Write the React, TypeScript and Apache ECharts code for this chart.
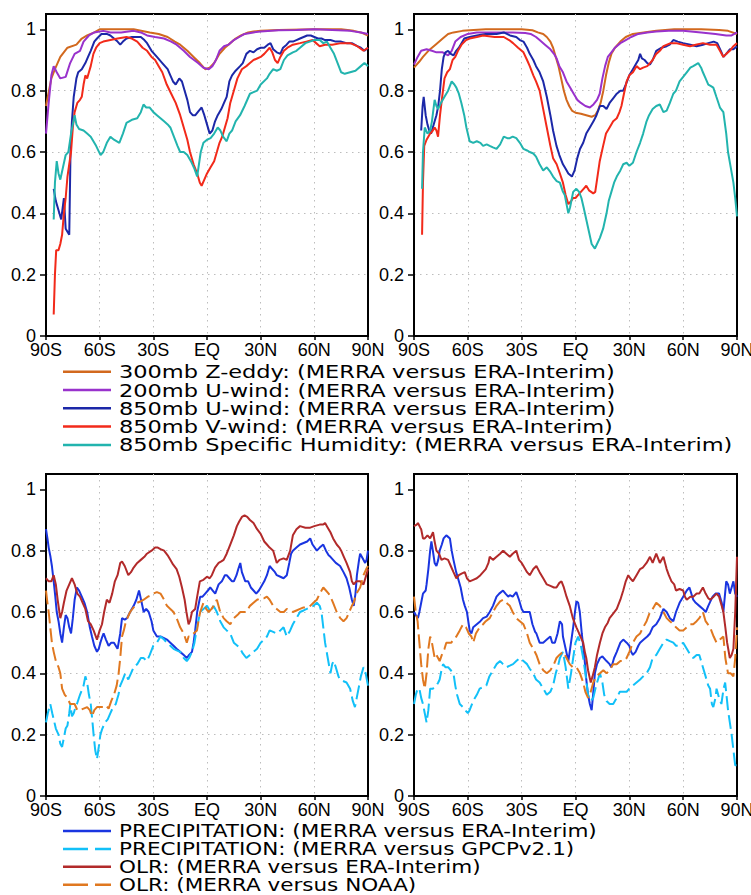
import { useRef, useEffect } from 'react';
import * as echarts from 'echarts';

// correlation vs latitude: [lat, r]
const zEddyA = [[-90,0.75],[-87,0.84],[-85,0.87],[-82,0.91],[-78,0.94],[-73,0.95],[-70,0.97],[-67,0.98],[-63,0.99],[-60,1.0],[-50,1.0],[-41,1.0],[-32,0.99],[-27,0.985],[-22,0.975],[-18,0.96],[-15,0.95],[-11,0.93],[-7.5,0.91],[-4,0.89],[-1,0.87],[1.5,0.875],[4,0.89],[7,0.92],[10,0.94],[13,0.955],[16,0.97],[19,0.98],[23,0.99],[26,0.993],[30,0.995],[40,0.998],[60,1.0],[75,1.0],[82,0.995],[86,0.99],[90,0.98]];
const uWind200A = [[-90,0.66],[-88.5,0.76],[-87,0.85],[-85.7,0.88],[-84,0.86],[-82,0.84],[-79,0.845],[-76.5,0.89],[-74,0.92],[-71,0.93],[-69,0.96],[-66,0.98],[-63,0.99],[-58,0.995],[-54,0.99],[-48,0.99],[-41,0.995],[-37,0.99],[-33.5,0.98],[-29,0.975],[-24,0.97],[-20,0.96],[-17,0.95],[-13,0.93],[-9.5,0.91],[-5,0.89],[-2,0.875],[1,0.87],[3,0.88],[5,0.9],[7,0.93],[9.5,0.945],[12,0.95],[15,0.965],[18,0.975],[21,0.985],[26,0.99],[30,0.993],[40,0.997],[50,0.998],[60,1.0],[70,0.998],[80,0.995],[86,0.99],[90,0.985]];
const uWind850A = [[-85.7,0.48],[-84.5,0.44],[-83,0.41],[-81.5,0.38],[-80,0.45],[-79,0.35],[-78,0.34],[-77,0.33],[-76.3,0.6],[-75.5,0.7],[-74.5,0.78],[-73,0.84],[-72,0.86],[-70,0.87],[-68,0.89],[-66.5,0.91],[-65,0.93],[-63,0.96],[-61.5,0.97],[-59,0.985],[-56,0.985],[-54,0.98],[-52,0.97],[-50,0.96],[-48.5,0.95],[-47,0.96],[-45,0.97],[-42,0.975],[-37,0.975],[-35,0.965],[-33.5,0.955],[-31,0.93],[-28,0.91],[-25,0.89],[-22,0.87],[-20.5,0.85],[-19,0.83],[-17.5,0.82],[-15.5,0.84],[-14,0.83],[-12.5,0.8],[-11,0.77],[-9.5,0.73],[-8,0.72],[-6.5,0.72],[-4.5,0.735],[-3,0.745],[-1.5,0.72],[0,0.69],[1.5,0.66],[3,0.67],[4.5,0.7],[6,0.72],[8,0.74],[9.5,0.76],[11,0.78],[12.5,0.83],[14,0.85],[16,0.865],[18.5,0.88],[20,0.89],[22,0.92],[24,0.93],[26,0.925],[28,0.935],[30,0.94],[32,0.94],[34,0.95],[35.5,0.955],[37,0.935],[39,0.925],[41,0.92],[42.5,0.94],[44.5,0.95],[46,0.96],[48,0.96],[50,0.965],[52,0.97],[54,0.975],[56,0.98],[58,0.98],[60,0.975],[62,0.97],[64,0.97],[66,0.965],[69,0.965],[72,0.96],[75,0.96],[78,0.955],[81,0.955],[84,0.945],[86,0.94],[88,0.93],[90,0.94]];
const vWind850A = [[-85.7,0.07],[-85,0.2],[-84.3,0.28],[-83,0.28],[-82,0.3],[-81,0.33],[-80,0.4],[-79,0.45],[-78,0.52],[-77,0.56],[-76,0.6],[-75,0.68],[-74,0.73],[-72.5,0.76],[-71,0.77],[-70,0.78],[-69,0.82],[-68,0.85],[-67,0.84],[-66,0.86],[-65,0.88],[-63.5,0.92],[-62,0.94],[-60,0.955],[-58,0.96],[-54,0.965],[-50,0.97],[-45,0.975],[-42,0.97],[-39,0.96],[-36,0.94],[-33.5,0.93],[-31,0.91],[-29,0.9],[-27,0.88],[-25,0.86],[-22.5,0.82],[-20,0.79],[-17.5,0.76],[-15,0.72],[-13,0.68],[-11,0.64],[-9.5,0.6],[-7.5,0.56],[-5.5,0.53],[-4,0.5],[-3,0.49],[-1.5,0.51],[0,0.53],[2,0.55],[4,0.57],[5.5,0.6],[7,0.63],[8.5,0.65],[10,0.68],[11.5,0.71],[13,0.76],[15,0.8],[17,0.84],[19.5,0.87],[22,0.88],[24,0.89],[26,0.9],[28,0.905],[30,0.91],[32,0.92],[33.5,0.93],[35,0.94],[36.5,0.925],[38,0.9],[39.5,0.89],[41,0.91],[43,0.93],[45,0.94],[48,0.95],[52,0.955],[55.5,0.96],[59,0.965],[61,0.955],[63,0.945],[66,0.95],[70,0.95],[75,0.955],[80,0.955],[84,0.945],[87.5,0.93],[90,0.94]];
const humidityA = [[-85.7,0.38],[-85,0.5],[-84,0.57],[-83,0.53],[-82,0.51],[-80.5,0.55],[-79,0.59],[-77.5,0.6],[-76,0.66],[-75,0.69],[-74,0.72],[-73,0.69],[-71.5,0.675],[-69,0.67],[-67,0.66],[-65,0.65],[-62,0.62],[-59.5,0.59],[-58,0.6],[-56,0.63],[-54,0.65],[-52,0.64],[-49,0.63],[-47,0.66],[-45,0.695],[-42,0.705],[-39,0.71],[-37,0.73],[-35.5,0.755],[-34,0.745],[-32,0.745],[-30,0.73],[-28,0.72],[-26,0.71],[-24,0.7],[-22,0.69],[-20.5,0.68],[-18.5,0.65],[-16.5,0.62],[-15,0.6],[-13,0.6],[-11,0.59],[-9,0.57],[-7,0.545],[-5.5,0.52],[-4.5,0.56],[-3.5,0.6],[-2,0.63],[0,0.64],[2,0.645],[4,0.66],[6,0.68],[7.5,0.67],[9,0.65],[11,0.635],[12.5,0.66],[14,0.67],[16,0.7],[18.5,0.72],[21,0.75],[24,0.79],[26,0.795],[28,0.8],[30,0.82],[33.5,0.84],[35,0.855],[37,0.87],[39,0.865],[41,0.87],[43,0.9],[45,0.915],[48,0.925],[50,0.93],[52,0.94],[55,0.955],[57.5,0.96],[60,0.965],[63,0.965],[65,0.955],[67,0.96],[69,0.94],[71,0.92],[73,0.89],[75,0.86],[77,0.855],[80,0.86],[83,0.865],[86,0.88],[88,0.89],[90,0.88]];

const zEddyB = [[-90,0.875],[-87,0.895],[-85,0.91],[-82,0.93],[-78,0.95],[-74,0.97],[-71,0.985],[-68,0.99],[-63,0.995],[-59,0.997],[-50,1.0],[-40,1.0],[-30,1.0],[-24,0.997],[-21,0.99],[-18,0.985],[-16,0.975],[-14,0.96],[-12.5,0.94],[-11,0.91],[-9.5,0.88],[-8,0.84],[-6.5,0.8],[-5,0.77],[-3.5,0.75],[-2,0.735],[0,0.728],[3,0.725],[6,0.72],[9,0.715],[11,0.72],[12.5,0.735],[14,0.76],[15.5,0.8],[17,0.85],[18.5,0.89],[20,0.92],[22,0.94],[25,0.96],[28,0.975],[32,0.985],[38,0.99],[45,0.995],[55,1.0],[70,1.0],[80,0.998],[85,0.995],[90,0.985]];
const uWind200B = [[-90,0.885],[-88,0.91],[-86,0.93],[-83,0.935],[-80,0.93],[-77.5,0.925],[-74,0.925],[-71,0.915],[-69,0.93],[-67,0.96],[-64,0.975],[-60,0.985],[-55,0.99],[-45,0.99],[-35,0.99],[-28,0.988],[-25,0.985],[-22,0.975],[-20,0.965],[-17,0.95],[-14,0.935],[-12,0.92],[-10.5,0.905],[-9,0.88],[-7,0.86],[-5,0.83],[-3,0.81],[-1,0.79],[1,0.77],[3,0.76],[5.5,0.75],[8,0.745],[10,0.755],[12,0.77],[13.5,0.79],[15,0.84],[16.5,0.88],[18,0.91],[20,0.925],[22,0.94],[25,0.955],[28,0.965],[31,0.975],[35,0.985],[40,0.99],[45,0.993],[52,0.995],[60,0.995],[70,0.99],[78,0.985],[84,0.98],[87,0.98],[90,0.99]];
const uWind850B = [[-86,0.67],[-85.2,0.75],[-84.6,0.78],[-83.5,0.72],[-82.5,0.69],[-81.5,0.67],[-80.5,0.66],[-79.5,0.68],[-78.5,0.7],[-77.5,0.72],[-76.5,0.75],[-75.5,0.8],[-74.5,0.87],[-73.5,0.91],[-72.5,0.925],[-71,0.93],[-69.5,0.92],[-68,0.915],[-66.5,0.93],[-65,0.94],[-63.5,0.955],[-62,0.97],[-59,0.975],[-55,0.98],[-50,0.985],[-44,0.985],[-40,0.99],[-36.5,0.98],[-33,0.975],[-31,0.965],[-29,0.96],[-27,0.94],[-25.5,0.92],[-23.5,0.9],[-22,0.88],[-20,0.86],[-18,0.83],[-16,0.78],[-14,0.72],[-12.5,0.67],[-10.6,0.62],[-9,0.59],[-7,0.56],[-5.5,0.545],[-4,0.53],[-2,0.52],[-0.5,0.54],[1,0.58],[2.5,0.61],[4.3,0.63],[6,0.66],[8,0.68],[10,0.7],[11.7,0.72],[13.6,0.75],[15.5,0.75],[17.3,0.74],[19,0.76],[21,0.775],[23,0.79],[25,0.8],[26.6,0.8],[28,0.82],[30,0.85],[32,0.87],[34,0.89],[35,0.9],[36,0.92],[37,0.905],[38.5,0.9],[40,0.89],[41.5,0.885],[43,0.9],[45,0.93],[48,0.94],[50.8,0.945],[52.5,0.95],[54.5,0.965],[57,0.96],[60,0.955],[64,0.95],[67.5,0.945],[71,0.95],[74,0.955],[77,0.96],[79,0.955],[81,0.93],[82.4,0.91],[84,0.92],[86,0.935],[88,0.935],[90,0.945]];
const vWind850B = [[-85.5,0.33],[-85,0.5],[-84.3,0.62],[-83,0.64],[-81,0.66],[-79.5,0.67],[-78.5,0.68],[-77.5,0.67],[-76.6,0.65],[-75.5,0.72],[-74.7,0.76],[-73,0.84],[-71.5,0.86],[-70,0.87],[-68.5,0.9],[-67,0.91],[-65.5,0.93],[-63.5,0.95],[-61,0.965],[-59,0.97],[-55,0.975],[-51.5,0.98],[-45,0.975],[-40,0.975],[-37,0.965],[-34.8,0.955],[-32,0.94],[-29,0.925],[-27,0.9],[-25.5,0.88],[-23.5,0.85],[-22,0.83],[-20,0.8],[-18,0.74],[-16,0.68],[-14,0.62],[-12.5,0.58],[-10.5,0.56],[-8.7,0.53],[-7,0.5],[-5.5,0.46],[-4,0.43],[-2.5,0.44],[-1.3,0.45],[0,0.45],[1.5,0.46],[3,0.47],[4.5,0.48],[6,0.49],[7.5,0.475],[9.9,0.465],[11,0.47],[12,0.51],[13.5,0.57],[15.4,0.62],[17,0.66],[19,0.68],[21,0.7],[23,0.71],[24.5,0.73],[25.6,0.75],[27,0.79],[28.5,0.83],[30,0.85],[32,0.86],[34,0.88],[36,0.87],[37.7,0.875],[40,0.88],[41.5,0.89],[43,0.9],[45,0.92],[47,0.93],[49,0.945],[51,0.95],[53,0.955],[56,0.955],[60,0.95],[63.8,0.945],[67,0.95],[71,0.955],[75,0.95],[78.6,0.95],[80.5,0.93],[82.4,0.91],[84,0.92],[86,0.93],[88,0.945],[90,0.955]];
const humidityB = [[-85.5,0.48],[-85,0.6],[-84,0.68],[-82.5,0.66],[-81,0.67],[-80,0.7],[-78.5,0.77],[-77.5,0.75],[-76.6,0.74],[-75,0.76],[-73,0.78],[-71,0.8],[-69,0.83],[-67.5,0.82],[-66.4,0.81],[-65,0.79],[-63.6,0.76],[-62,0.72],[-60.8,0.68],[-59,0.635],[-57,0.63],[-55,0.635],[-53,0.63],[-51.5,0.62],[-49.5,0.625],[-47.8,0.62],[-46,0.615],[-44,0.61],[-42,0.625],[-40,0.65],[-38,0.645],[-36.6,0.645],[-35,0.65],[-33,0.645],[-31,0.63],[-29,0.61],[-27,0.605],[-25.5,0.6],[-23.5,0.595],[-22,0.585],[-20,0.56],[-18,0.54],[-16,0.55],[-14,0.535],[-12.5,0.52],[-10.5,0.505],[-8.7,0.5],[-7,0.47],[-6,0.46],[-5,0.43],[-4,0.4],[-3,0.42],[-1.3,0.47],[0.5,0.48],[2,0.47],[3.3,0.45],[4.5,0.42],[6,0.38],[7.5,0.34],[9,0.3],[10.8,0.285],[12,0.3],[13.6,0.32],[15.4,0.35],[17.3,0.4],[18.5,0.44],[20,0.47],[21.5,0.5],[23,0.52],[25,0.54],[26.6,0.56],[28.5,0.565],[30,0.555],[32,0.565],[34,0.6],[36,0.63],[37.7,0.66],[39.6,0.7],[41,0.72],[43,0.74],[45,0.75],[47,0.755],[49,0.73],[50.8,0.735],[52.6,0.76],[54.5,0.79],[56,0.8],[58,0.83],[60,0.845],[62,0.86],[64,0.875],[65.6,0.88],[67,0.885],[68.4,0.89],[70,0.875],[71,0.86],[72.5,0.84],[74,0.82],[75.5,0.815],[76.8,0.81],[78.5,0.78],[80.5,0.745],[82.4,0.73],[84,0.66],[85,0.6],[86.5,0.55],[88,0.5],[89,0.45],[90,0.39]];

const precipEraA = [[-90,0.87],[-89.2,0.84],[-88.5,0.81],[-87.5,0.78],[-86.7,0.75],[-85.7,0.7],[-84.8,0.65],[-84,0.6],[-83,0.57],[-82,0.53],[-81,0.5],[-80,0.55],[-79,0.59],[-78,0.58],[-77,0.55],[-76,0.53],[-75,0.58],[-74,0.64],[-72.7,0.68],[-71.5,0.67],[-70,0.65],[-68.5,0.63],[-67,0.6],[-65.5,0.55],[-64.3,0.52],[-63,0.49],[-61.5,0.47],[-60.5,0.48],[-59.6,0.5],[-58.5,0.52],[-57.8,0.53],[-56.5,0.51],[-55,0.49],[-53.5,0.5],[-52,0.5],[-51,0.49],[-50,0.48],[-48.5,0.53],[-47.5,0.58],[-46,0.575],[-44.7,0.58],[-43,0.6],[-41,0.62],[-39.5,0.64],[-38,0.67],[-36.5,0.63],[-35.4,0.6],[-34,0.61],[-32.6,0.6],[-31,0.57],[-30,0.54],[-28,0.52],[-26,0.52],[-24,0.515],[-22.4,0.51],[-20.5,0.5],[-18.7,0.49],[-17,0.48],[-15,0.47],[-13,0.46],[-11.3,0.45],[-10,0.46],[-8.4,0.47],[-7.5,0.5],[-6.6,0.54],[-5.5,0.6],[-4.5,0.63],[-3.8,0.65],[-2.5,0.65],[-1,0.66],[0.5,0.67],[1.8,0.68],[3.2,0.67],[4.6,0.66],[6.5,0.69],[8.3,0.7],[10,0.72],[11,0.72],[12.5,0.71],[14,0.7],[15,0.7],[16.5,0.72],[17.5,0.74],[18.6,0.76],[19.5,0.73],[21.4,0.7],[23,0.7],[24.5,0.68],[26,0.67],[27.5,0.66],[29,0.67],[30,0.68],[32,0.7],[33.5,0.72],[35,0.75],[36.5,0.74],[38,0.73],[39,0.72],[41,0.715],[42.8,0.71],[44.6,0.72],[46,0.76],[47,0.79],[48,0.8],[50,0.81],[52,0.82],[54,0.825],[56,0.83],[57.7,0.84],[59,0.82],[61.4,0.8],[63,0.81],[65,0.82],[66.5,0.8],[68,0.785],[69,0.78],[70.5,0.77],[72,0.76],[74.4,0.75],[76.3,0.73],[78,0.71],[79.5,0.68],[81,0.64],[82,0.62],[83,0.66],[83.8,0.72],[85,0.77],[85.6,0.79],[87,0.775],[88.4,0.76],[89.2,0.77],[90,0.8]];
const precipGpcpA = [[-90,0.24],[-89,0.27],[-87.6,0.3],[-86.5,0.27],[-85.7,0.25],[-84.5,0.22],[-83,0.2],[-82,0.17],[-81,0.16],[-80,0.19],[-79,0.22],[-78,0.23],[-77,0.27],[-76.4,0.3],[-75.5,0.26],[-74.5,0.27],[-73.5,0.29],[-72.7,0.3],[-71,0.33],[-69,0.36],[-68,0.39],[-67,0.37],[-66,0.33],[-65,0.3],[-64,0.24],[-63.4,0.2],[-62.5,0.15],[-61.5,0.12],[-60.5,0.16],[-59.6,0.2],[-58.5,0.22],[-57,0.24],[-55.5,0.25],[-54,0.27],[-52.5,0.29],[-51,0.3],[-49.5,0.33],[-48.5,0.36],[-47,0.38],[-45.7,0.4],[-44,0.38],[-42.5,0.4],[-41,0.42],[-39,0.43],[-37,0.45],[-35.5,0.45],[-33.6,0.44],[-32,0.46],[-30,0.49],[-28,0.5],[-26,0.52],[-24,0.51],[-22.4,0.5],[-20.5,0.49],[-18.7,0.48],[-17,0.475],[-15,0.47],[-13,0.45],[-11.3,0.44],[-10,0.45],[-8.4,0.47],[-7,0.5],[-5.6,0.55],[-4.5,0.58],[-3.8,0.6],[-2,0.61],[0,0.62],[2,0.6],[3.7,0.62],[5.5,0.6],[7.4,0.57],[9.3,0.55],[11,0.54],[13,0.53],[15,0.5],[17,0.49],[18.6,0.48],[20,0.465],[22,0.45],[24,0.46],[26,0.47],[28,0.48],[30,0.5],[32,0.51],[33.5,0.52],[35,0.54],[37,0.535],[39,0.53],[41,0.54],[42.8,0.55],[44.6,0.52],[46.5,0.54],[48,0.56],[50,0.58],[52,0.6],[54,0.605],[55.8,0.61],[57.5,0.615],[59.5,0.62],[61.4,0.63],[63,0.62],[64,0.6],[65,0.55],[66,0.5],[67.5,0.45],[69,0.4],[70,0.43],[70.7,0.44],[72,0.42],[73.5,0.39],[74.4,0.38],[76,0.375],[78,0.37],[80,0.35],[81.5,0.31],[82.7,0.29],[83.7,0.32],[84.7,0.35],[86,0.39],[87.5,0.42],[88.7,0.4],[90,0.36]];
const olrEraA = [[-90,0.71],[-88.5,0.7],[-87,0.7],[-85.7,0.72],[-84.5,0.69],[-83.5,0.64],[-82,0.58],[-81,0.6],[-80,0.63],[-78.5,0.67],[-77,0.69],[-75.5,0.71],[-74,0.69],[-72.5,0.66],[-71,0.65],[-69.5,0.63],[-68,0.61],[-66.5,0.57],[-65,0.56],[-63.4,0.54],[-61.5,0.51],[-60,0.54],[-58.7,0.56],[-57.5,0.6],[-56,0.64],[-54.5,0.63],[-53,0.66],[-51.5,0.7],[-50,0.72],[-48.5,0.76],[-47.5,0.765],[-46,0.75],[-44,0.72],[-42.5,0.73],[-41,0.745],[-39,0.76],[-37,0.77],[-35,0.78],[-33.6,0.79],[-31,0.8],[-29,0.81],[-27.5,0.81],[-26,0.805],[-24,0.8],[-22,0.785],[-20.5,0.77],[-19,0.755],[-17,0.74],[-15.5,0.715],[-14,0.68],[-12.5,0.64],[-11.5,0.6],[-10.3,0.56],[-9.5,0.57],[-8.4,0.6],[-6.6,0.61],[-5.5,0.65],[-4,0.7],[-2,0.705],[0,0.715],[1.5,0.71],[2.7,0.72],[4.5,0.745],[6.5,0.76],[8,0.765],[9.3,0.77],[11,0.79],[13,0.82],[15,0.85],[16.7,0.88],[18,0.895],[19.5,0.91],[21,0.915],[22.5,0.91],[24,0.9],[26,0.89],[28,0.87],[30,0.855],[32,0.83],[33.5,0.82],[35,0.81],[37,0.8],[38,0.78],[39,0.76],[40.5,0.77],[42.8,0.775],[44.6,0.77],[46.5,0.8],[48,0.85],[50,0.87],[52,0.88],[55,0.875],[57.7,0.875],[60,0.88],[63,0.885],[65,0.885],[66,0.89],[67.5,0.875],[69,0.86],[70.5,0.84],[72.5,0.82],[74,0.81],[75,0.8],[76.5,0.78],[78,0.76],[80,0.73],[81,0.7],[82,0.69],[83.5,0.7],[85.6,0.7],[87.5,0.69],[89,0.72],[90,0.74]];
const olrNoaaA = [[-90,0.67],[-89.2,0.63],[-88.5,0.6],[-87.6,0.55],[-86.7,0.5],[-85.7,0.47],[-84.5,0.44],[-83,0.42],[-82,0.4],[-81,0.35],[-79.5,0.33],[-78,0.32],[-76.5,0.3],[-75.5,0.3],[-74,0.3],[-72.5,0.28],[-71,0.28],[-69,0.285],[-67,0.29],[-65.5,0.28],[-64.3,0.26],[-63,0.28],[-61.5,0.29],[-59.6,0.29],[-57.8,0.29],[-56.5,0.295],[-55,0.285],[-53.5,0.31],[-52,0.33],[-50.5,0.36],[-49.4,0.4],[-48.5,0.45],[-47.5,0.52],[-46.5,0.54],[-45.7,0.56],[-44.5,0.58],[-43,0.6],[-41,0.615],[-39,0.63],[-37,0.635],[-35.4,0.64],[-33,0.65],[-31,0.655],[-30,0.66],[-28,0.665],[-26,0.66],[-24,0.64],[-22.4,0.62],[-20.5,0.61],[-18.7,0.6],[-17,0.58],[-15,0.55],[-13,0.53],[-11.3,0.5],[-10.3,0.52],[-9.4,0.52],[-7.5,0.53],[-5.6,0.54],[-4.5,0.58],[-3.8,0.6],[-2,0.63],[-0.5,0.61],[1,0.6],[2.5,0.61],[3.7,0.62],[5.5,0.64],[7.4,0.6],[9.3,0.58],[11,0.57],[13,0.56],[15,0.58],[17,0.59],[18.6,0.6],[20,0.6],[22,0.6],[24,0.62],[26,0.63],[28,0.64],[30,0.645],[32,0.645],[33.5,0.65],[35,0.64],[37,0.62],[39,0.61],[41,0.6],[43,0.6],[44.6,0.61],[46.5,0.605],[48,0.6],[50,0.605],[52,0.61],[54,0.615],[56,0.615],[57.7,0.62],[59.5,0.63],[61.4,0.64],[63,0.66],[65,0.68],[66.5,0.67],[68,0.66],[69,0.65],[70.5,0.63],[72.5,0.6],[74.5,0.58],[76.3,0.57],[78,0.58],[79.5,0.6],[81,0.62],[82,0.63],[83.5,0.66],[85.6,0.68],[87.5,0.72],[89,0.74],[90,0.75]];

const precipEraB = [[-90,0.6],[-89,0.59],[-87.8,0.58],[-87,0.6],[-86,0.63],[-85,0.66],[-83.5,0.67],[-83,0.69],[-82,0.74],[-81,0.8],[-80.3,0.83],[-79.5,0.8],[-78.5,0.76],[-77.5,0.75],[-76.5,0.77],[-75.7,0.8],[-74.5,0.82],[-73.5,0.84],[-72,0.85],[-71,0.845],[-70,0.84],[-69,0.8],[-68,0.77],[-66.5,0.73],[-65,0.7],[-64,0.68],[-62.7,0.64],[-61.7,0.62],[-60.5,0.6],[-59.5,0.56],[-59,0.54],[-58,0.53],[-57,0.55],[-55,0.56],[-53,0.57],[-51.5,0.58],[-49.5,0.585],[-47.8,0.6],[-46,0.62],[-44,0.65],[-42.5,0.66],[-40.4,0.67],[-39,0.66],[-37.5,0.65],[-36.6,0.655],[-35,0.65],[-33,0.665],[-31.5,0.64],[-30,0.61],[-29,0.6],[-27.5,0.6],[-25.5,0.6],[-24,0.56],[-22.5,0.535],[-21.8,0.53],[-20,0.5],[-18,0.5],[-16,0.51],[-14,0.52],[-13,0.5],[-11.5,0.5],[-10,0.53],[-8.7,0.57],[-7.5,0.56],[-7,0.52],[-5.5,0.48],[-4,0.44],[-3,0.48],[-1.3,0.55],[-0.3,0.6],[0.5,0.635],[1.5,0.63],[2.4,0.6],[3.5,0.53],[5,0.45],[6,0.38],[7,0.33],[8,0.3],[9,0.28],[9.8,0.33],[10.8,0.4],[12,0.43],[13.6,0.45],[15,0.455],[17.3,0.44],[19,0.43],[20,0.42],[21.5,0.45],[23,0.47],[25,0.5],[26.6,0.51],[28.5,0.5],[30,0.49],[31,0.47],[32,0.46],[33.5,0.47],[35,0.49],[36,0.5],[38,0.51],[40,0.52],[41.5,0.53],[43,0.55],[45,0.56],[47,0.58],[49,0.61],[50.8,0.6],[52.6,0.58],[54.5,0.57],[56,0.6],[58,0.63],[60,0.65],[62,0.67],[63.5,0.68],[65.6,0.64],[67,0.63],[69,0.62],[71,0.61],[72.6,0.6],[74,0.62],[76.4,0.65],[78,0.66],[80,0.66],[81.5,0.63],[82.4,0.6],[83.2,0.65],[84,0.7],[85,0.69],[86,0.66],[87,0.68],[88,0.7],[89,0.66],[90,0.65]];
const precipGpcpB = [[-90,0.3],[-89,0.33],[-88,0.35],[-87,0.35],[-86,0.32],[-85,0.3],[-84,0.27],[-83,0.24],[-82,0.28],[-81,0.35],[-79.5,0.35],[-77.5,0.36],[-76.5,0.37],[-75.7,0.38],[-74.7,0.41],[-73.8,0.43],[-72.5,0.42],[-71,0.42],[-69.5,0.41],[-68,0.4],[-67,0.36],[-66,0.33],[-64.5,0.3],[-62.7,0.29],[-61.5,0.28],[-60,0.27],[-59,0.28],[-57,0.31],[-55,0.33],[-53.4,0.35],[-51.5,0.355],[-49.7,0.36],[-48,0.39],[-46,0.41],[-44,0.43],[-42,0.44],[-40.4,0.43],[-38.5,0.42],[-36.6,0.425],[-34.8,0.43],[-33,0.44],[-31,0.45],[-29,0.44],[-27,0.43],[-25.5,0.415],[-23.6,0.4],[-22,0.38],[-20,0.37],[-18,0.35],[-16,0.33],[-14,0.34],[-12.5,0.36],[-11,0.4],[-9.5,0.43],[-8.7,0.45],[-7,0.47],[-5.5,0.42],[-4,0.35],[-2.5,0.4],[-1.3,0.45],[0,0.5],[1.5,0.52],[3,0.49],[4.3,0.45],[5.5,0.4],[7,0.33],[8.5,0.31],[9.9,0.32],[11.5,0.36],[13.6,0.4],[15,0.37],[16,0.33],[17.3,0.31],[19,0.3],[21,0.3],[23,0.32],[24.7,0.34],[26.6,0.34],[28.5,0.34],[30,0.35],[32,0.36],[34,0.37],[36,0.38],[37.7,0.39],[39.6,0.4],[41.5,0.42],[43,0.45],[45,0.46],[47,0.48],[49,0.5],[50.8,0.51],[52.6,0.505],[54.5,0.5],[56,0.49],[58,0.49],[60,0.5],[62,0.48],[64,0.46],[65.6,0.45],[67.5,0.46],[69,0.46],[71,0.42],[72.5,0.39],[74,0.36],[75,0.35],[76,0.3],[76.8,0.29],[78,0.32],[78.6,0.35],[80,0.32],[81.3,0.3],[82.5,0.35],[83.4,0.37],[84.3,0.32],[85,0.28],[86,0.24],[87,0.2],[88,0.15],[89,0.1],[90,0.1]];
const olrEraB = [[-90,0.88],[-88.5,0.885],[-87.8,0.89],[-86.5,0.875],[-86,0.87],[-85,0.84],[-84,0.84],[-82.5,0.85],[-81,0.84],[-79.4,0.86],[-78.5,0.83],[-77.5,0.8],[-76,0.79],[-74.7,0.77],[-73,0.775],[-71,0.77],[-69.5,0.75],[-68,0.73],[-66.4,0.71],[-65,0.72],[-63.5,0.725],[-61.7,0.73],[-60.5,0.71],[-59,0.7],[-57,0.705],[-55,0.71],[-53,0.72],[-51.5,0.73],[-50,0.74],[-48.5,0.76],[-47.8,0.78],[-46,0.77],[-44,0.78],[-42,0.79],[-40.4,0.8],[-38.5,0.79],[-36.6,0.78],[-35,0.79],[-33,0.8],[-31.5,0.77],[-30,0.76],[-29,0.75],[-27,0.73],[-25.5,0.72],[-23.5,0.74],[-21.8,0.75],[-20,0.73],[-18,0.71],[-16,0.69],[-14,0.685],[-12,0.68],[-10.6,0.68],[-9,0.695],[-7.8,0.7],[-6.5,0.68],[-5,0.65],[-3.2,0.62],[-1.5,0.58],[0.5,0.55],[2,0.53],[4.3,0.5],[5.2,0.47],[6,0.45],[7,0.41],[8.5,0.37],[9.5,0.39],[10.8,0.42],[12,0.46],[13.6,0.5],[15,0.53],[16.4,0.55],[18,0.565],[19,0.58],[21,0.595],[23,0.61],[25,0.64],[26.6,0.67],[28,0.7],[29.4,0.72],[30.5,0.71],[32,0.7],[34,0.72],[36,0.74],[37.5,0.745],[39.6,0.76],[41.5,0.78],[43,0.76],[45,0.79],[47,0.76],[48,0.77],[49,0.78],[50.8,0.74],[52,0.72],[53.5,0.7],[55,0.69],[56,0.67],[58,0.675],[60,0.67],[61,0.65],[62,0.64],[64,0.65],[65.6,0.65],[67.5,0.66],[69,0.66],[71,0.68],[72.5,0.66],[74,0.645],[75,0.64],[77,0.65],[78.6,0.66],[80,0.65],[81.5,0.62],[82.4,0.6],[83.5,0.55],[84.5,0.5],[86,0.45],[87,0.46],[88,0.48],[89,0.6],[90,0.78]];
const olrNoaaB = [[-90,0.65],[-89,0.6],[-88,0.57],[-87,0.5],[-86,0.43],[-85,0.38],[-84,0.35],[-83,0.4],[-82,0.48],[-81,0.52],[-80,0.5],[-78.5,0.45],[-77.5,0.46],[-75.7,0.44],[-74.5,0.46],[-73,0.48],[-72,0.5],[-70.5,0.5],[-69.2,0.5],[-68,0.51],[-66.4,0.52],[-64.5,0.54],[-62.7,0.56],[-61,0.55],[-59.5,0.53],[-58,0.52],[-57,0.5],[-55.5,0.53],[-53.4,0.55],[-51.5,0.56],[-50,0.57],[-47.8,0.58],[-46,0.6],[-44,0.62],[-42,0.635],[-40.4,0.64],[-38.5,0.63],[-36.6,0.62],[-35,0.6],[-33,0.58],[-31,0.57],[-29,0.56],[-27,0.53],[-25.5,0.5],[-23.5,0.48],[-21.8,0.46],[-20,0.43],[-18,0.41],[-16,0.4],[-14,0.41],[-12,0.43],[-10.6,0.45],[-9,0.46],[-7,0.47],[-5,0.45],[-3.2,0.43],[-1.5,0.42],[0.5,0.42],[2.5,0.4],[4.3,0.37],[5.5,0.34],[7,0.32],[8.5,0.34],[9.9,0.37],[11.5,0.39],[13.6,0.4],[15.5,0.41],[17.3,0.4],[19,0.41],[21,0.43],[23,0.43],[25,0.44],[26.6,0.44],[28.5,0.45],[30,0.47],[32,0.5],[34,0.52],[36,0.53],[37.7,0.55],[39.6,0.57],[41.5,0.6],[43,0.61],[45,0.63],[47,0.62],[49,0.6],[50.8,0.58],[52.6,0.57],[54.5,0.56],[56,0.55],[58,0.54],[60,0.54],[62,0.55],[64,0.56],[65.6,0.56],[67.5,0.57],[69,0.58],[71,0.6],[72.5,0.57],[75,0.55],[77,0.52],[78.6,0.5],[80.5,0.51],[82.4,0.52],[83.5,0.45],[85,0.4],[86.5,0.4],[88,0.39],[89,0.45],[90,0.55]];

const topNames = [
  '300mb Z-eddy: (MERRA versus ERA-Interim)',
  '200mb U-wind: (MERRA versus ERA-Interim)',
  '850mb U-wind: (MERRA versus ERA-Interim)',
  '850mb V-wind: (MERRA versus ERA-Interim)',
  '850mb Specific Humidity: (MERRA versus ERA-Interim)',
];
const bottomNames = [
  'PRECIPITATION: (MERRA versus ERA-Interim)',
  'PRECIPITATION: (MERRA versus GPCPv2.1)',
  'OLR: (MERRA versus ERA-Interim)',
  'OLR: (MERRA versus NOAA)',
];
const yTicks = [0, 0.2, 0.4, 0.6, 0.8, 1];

const topColors = ['#d2691e', '#9932cc', '#1c28a8', '#f22a1a', '#22b4ae'];
const bottomColors = ['#1a35e0', '#12c0f8', '#b22a2a', '#e07820'];
const bottomDashed = [false, true, false, true];

const FONT = 'Liberation Sans';
const DASH = [14, 5];

// [left, top, width, height] of the four panels
const panels = [
  [46, 14, 322, 322],
  [414, 14, 323, 322],
  [46, 474, 322, 322],
  [414, 474, 323, 322],
];

const latLabel = (v: number) => (v === 0 ? 'EQ' : v < 0 ? `${-v}S` : `${v}N`);
const rLabel = (v: number) => {
  if (v > 1.001) return '';
  if (v === 0) return '0';
  if (Math.abs(v - 1) < 1e-6) return '1';
  return v.toFixed(1);
};

const mkLine = (name: string, data: number[][], color: string, idx: number, dashed = false) => ({
  type: 'line',
  name,
  data,
  xAxisIndex: idx,
  yAxisIndex: idx,
  showSymbol: false,
  symbol: 'none',
  lineStyle: { color, width: 2, type: dashed ? DASH : 'solid' },
  itemStyle: { color },
  emphasis: { disabled: true },
});

// hand-drawn legend block: sample line + stretched text (the original font is wide)
const legendBlock = (names: string[], colors: string[], dashed: boolean[], y0: number, step: number, stretch: number) => ({
  type: 'group',
  children: names.flatMap((name, i) => {
    const y = y0 + i * step;
    return [
      {
        type: 'line',
        shape: { x1: 63, y1: y, x2: 111, y2: y },
        style: { stroke: colors[i], lineWidth: 2.5, lineDash: dashed[i] ? [25, 7] : null },
      },
      {
        type: 'text',
        x: 119,
        y: y + 0.5,
        scaleX: stretch,
        style: {
          text: name,
          fontSize: 17.5,
          lineHeight: 16,
          fontFamily: 'DejaVu Sans',
          fill: '#000',
          align: 'left',
          verticalAlign: 'middle',
        },
      },
    ];
  }),
});

const App = () => {
  const chartRef = useRef<HTMLDivElement>(null);

  useEffect(() => {
    if (!chartRef.current) return;
    const chart = echarts.init(chartRef.current, null, { renderer: 'svg' });

    const topSets = [
      [zEddyA, uWind200A, uWind850A, vWind850A, humidityA],
      [zEddyB, uWind200B, uWind850B, vWind850B, humidityB],
    ];
    const bottomSets = [
      [precipEraA, precipGpcpA, olrEraA, olrNoaaA],
      [precipEraB, precipGpcpB, olrEraB, olrNoaaB],
    ];

    const series: any[] = [];
    topSets.forEach((set, p) => {
      set.forEach((d, i) => series.push(mkLine(topNames[i], d, topColors[i], p)));
    });
    bottomSets.forEach((set, p) => {
      set.forEach((d, i) => series.push(mkLine(bottomNames[i], d, bottomColors[i], p + 2, bottomDashed[i])));
    });

    chart.setOption({
      animation: false,
      backgroundColor: '#fff',
      grid: panels.map(([left, top, width, height]) => ({
        left, top, width, height,
        show: true,
        borderColor: '#000',
        borderWidth: 2,
        backgroundColor: 'transparent',
        containLabel: false,
        outerBoundsMode: 'none',
      })),
      xAxis: panels.map((_, i) => ({
        type: 'value',
        gridIndex: i,
        min: -90,
        max: 90,
        interval: 30,
        axisLine: { show: true, onZero: false, lineStyle: { color: '#000', width: 2 } },
        axisTick: { show: true, length: 4, lineStyle: { color: '#000', width: 1.5 } },
        axisLabel: { formatter: latLabel, fontSize: 18, lineHeight: 14, fontFamily: FONT, color: '#000', margin: 7 },
        splitLine: { show: true, showMinLine: false, showMaxLine: false, lineStyle: { color: '#bdbdbd', type: [1.5, 4.5], width: 1 } },
      })),
      yAxis: panels.map((_, i) => ({
        type: 'value',
        gridIndex: i,
        min: 0,
        max: 1.05,
        interval: 0.2,
        axisLine: { show: true, onZero: false, lineStyle: { color: '#000', width: 2 } },
        axisTick: { show: true, length: 6, customValues: yTicks, lineStyle: { color: '#000', width: 1.5 } },
        axisLabel: { formatter: rLabel, customValues: yTicks, fontSize: 18, lineHeight: 14, fontFamily: FONT, color: '#000', margin: 10 },
        splitLine: { show: true, showMinLine: false, showMaxLine: false, lineStyle: { color: '#bdbdbd', type: [1.5, 4.5], width: 1 } },
      })),
      graphic: [
        legendBlock(topNames, topColors, [false, false, false, false, false], 371.7, 18.3, 1.285),
        legendBlock(bottomNames, bottomColors, bottomDashed, 831, 17.9, 1.23),
      ],
      series,
    });

    return () => {
      chart.dispose();
    };
  }, []);

  return (
    <div
      ref={chartRef}
      style={{ position: 'absolute', left: 0, top: 0, width: 751, height: 895, background: '#fff' }}
    />
  );
};

export default App;
